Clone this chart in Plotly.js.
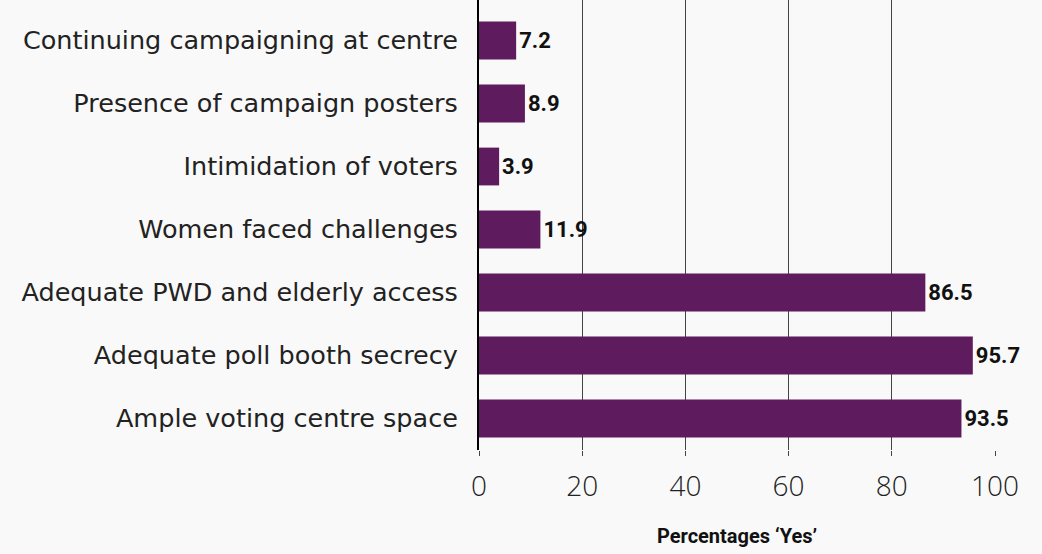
<!DOCTYPE html>
<html>
<head>
<meta charset="utf-8">
<script src="https://cdn.plot.ly/plotly-3.0.1.min.js"></script>
<style>html,body{margin:0;padding:0;background:#f9f9f9;}#chart{width:1042px;height:554px;}</style>
</head>
<body>
<div id="chart"></div>
<script>
const categories = [
  "Continuing campaigning at centre",
  "Presence of campaign posters",
  "Intimidation of voters",
  "Women faced challenges",
  "Adequate PWD and elderly access",
  "Adequate poll booth secrecy",
  "Ample voting centre space"
];
const yesPct = [7.2, 8.9, 3.9, 11.9, 86.5, 95.7, 93.5];
const tickVals = [0, 20, 40, 60, 80, 100];
const xTitle = "Percentages \u2018Yes\u2019";

const trace = {
  type: "bar",
  orientation: "h",
  x: yesPct,
  y: categories,
  marker: {color: "#5e1b5e"},
  text: yesPct.map(v => v.toFixed(1)),
  textposition: "outside",
  constraintext: "none",
  cliponaxis: false,
  textfont: {family: "Roboto, sans-serif", size: 22, color: "#111", weight: 700},
  hoverinfo: "none"
};

const layout = {
  width: 1042, height: 554,
  margin: {l: 479, r: 47, t: 0, b: 104},
  paper_bgcolor: "#f9f9f9",
  plot_bgcolor: "#f9f9f9",
  bargap: 0.4,
  showlegend: false,
  xaxis: {
    range: [0, 100],
    tickvals: tickVals,
    ticktext: tickVals.map(String),
    showgrid: true,
    gridcolor: "#444",
    gridwidth: 1,
    zeroline: false,
    showline: false,
    ticks: "outside",
    ticklen: 5,
    tickcolor: "#444",
    ticklabelstandoff: 6,
    tickfont: {family: "Open Sans, sans-serif", size: 28, color: "#222", weight: 300},
    title: {text: xTitle, font: {family: "Roboto, sans-serif", size: 20, color: "#111", weight: 700}, standoff: 26},
    fixedrange: true
  },
  yaxis: {
    range: [6.5, -0.643],
    showline: true,
    linecolor: "#000",
    linewidth: 2,
    showgrid: false,
    ticks: "",
    ticklabelstandoff: 14,
    tickfont: {family: "DejaVu Sans, sans-serif", size: 25.5, color: "#222"},
    automargin: false,
    fixedrange: true
  }
};

Plotly.newPlot("chart", [trace], layout, {displayModeBar: false, staticPlot: true});
</script>
</body>
</html>
